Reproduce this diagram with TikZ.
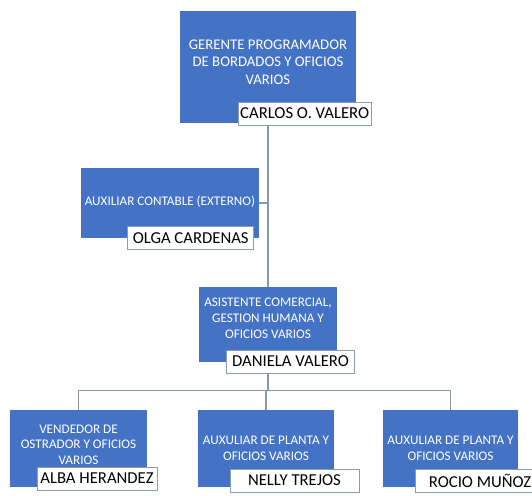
\documentclass[tikz,border=0pt]{standalone}
\usepackage{fontspec}
\setmainfont{Carlito}
\usepackage{tikz}
\usetikzlibrary{backgrounds}
\usetikzlibrary{positioning}
\usetikzlibrary{calc}

\definecolor{cargoazul}{HTML}{4472C4}
\definecolor{lineagris}{HTML}{8A98AC}
\definecolor{nombreborde}{HTML}{8C9BB0}

\begin{document}
\begin{tikzpicture}[x=0.02cm,y=-0.02cm,
    cargo/.style={draw=none,fill=cargoazul,text=white,align=center,font=\fontsize{7.5}{9}\selectfont,inner sep=2pt},
    subir/.style={execute at end node={\rule[-#1]{0pt}{0pt}}},
    nombre/.style={draw=nombreborde,fill=white,text=black,font=\fontsize{9.5}{11}\selectfont,inner sep=1pt,minimum height=0.46cm},
    linea/.style={draw=lineagris,line width=0.9pt}]
    \useasboundingbox (0,0) rectangle (532,496);
    \clip (0,0) rectangle (532,496);
    % cargos
    \node[cargo,font=\fontsize{8.4}{10}\selectfont,subir=5.7pt,minimum width=3.52cm,minimum height=2.24cm] (gerente) at (268,67) {GERENTE PROGRAMADOR\\DE BORDADOS Y OFICIOS\\VARIOS};
    \node[cargo,subir=2.3pt,minimum width=3.52cm,minimum height=1.42cm] (auxcontable) at (170,203) {AUXILIAR CONTABLE (EXTERNO)};
    \node[cargo,subir=6.8pt,minimum width=2.78cm,minimum height=1.5cm] (asistente) at (268,324.5) {ASISTENTE COMERCIAL,\\GESTION HUMANA Y\\OFICIOS VARIOS};
    \node[cargo,subir=4.5pt,minimum width=2.74cm,minimum height=1.54cm] (vendedor) at (78.5,448.5) {VENDEDOR DE\\OSTRADOR Y OFICIOS\\VARIOS};
    \node[cargo,minimum width=2.72cm,minimum height=1.54cm] (planta1) at (266,448.5) {AUXULIAR DE PLANTA Y\\OFICIOS VARIOS};
    \node[cargo,minimum width=2.7cm,minimum height=1.54cm] (planta2) at (450.5,448.5) {AUXULIAR DE PLANTA Y\\OFICIOS VARIOS};
    % nombres
    \node[nombre,minimum width=2.56cm,anchor=south east] (carlos) at ($(gerente.south east)+(15,2)$) {CARLOS O. VALERO};
    \node[nombre,minimum width=2.52cm,anchor=south east] (olga) at ($(auxcontable.south east)+(-5,11)$) {OLGA CARDENAS};
    \node[nombre,minimum width=2.56cm,anchor=south east] (daniela) at ($(asistente.south east)+(17,11)$) {DANIELA VALERO};
    \node[nombre,minimum width=2.4cm,anchor=south east] (alba) at ($(vendedor.south east)+(10,3)$) {ALBA HERANDEZ};
    \node[nombre,minimum width=2.58cm,anchor=south east] (nelly) at ($(planta1.south east)+(25,5)$) {NELLY TREJOS};
    \node[nombre,minimum width=2.6cm,anchor=south west] (rocio) at ($(planta2.south west)+(32,5)$) {ROCIO MUÑOZ};
    % lineas
    \begin{scope}[on background layer]
    \coordinate (bus) at ($(asistente.south)+(0,28)$);
    \draw[linea] (gerente.south) -- (asistente.north);
    \draw[linea] (auxcontable.east) -- (auxcontable.east -| gerente.south);
    \draw[linea] (asistente.south) -- (bus);
    \draw[linea] (vendedor.north) |- (bus) -| (planta2.north);
    \draw[linea] (planta1.north) -- (planta1.north |- bus);
    \end{scope}
  \end{tikzpicture}
\end{document}
